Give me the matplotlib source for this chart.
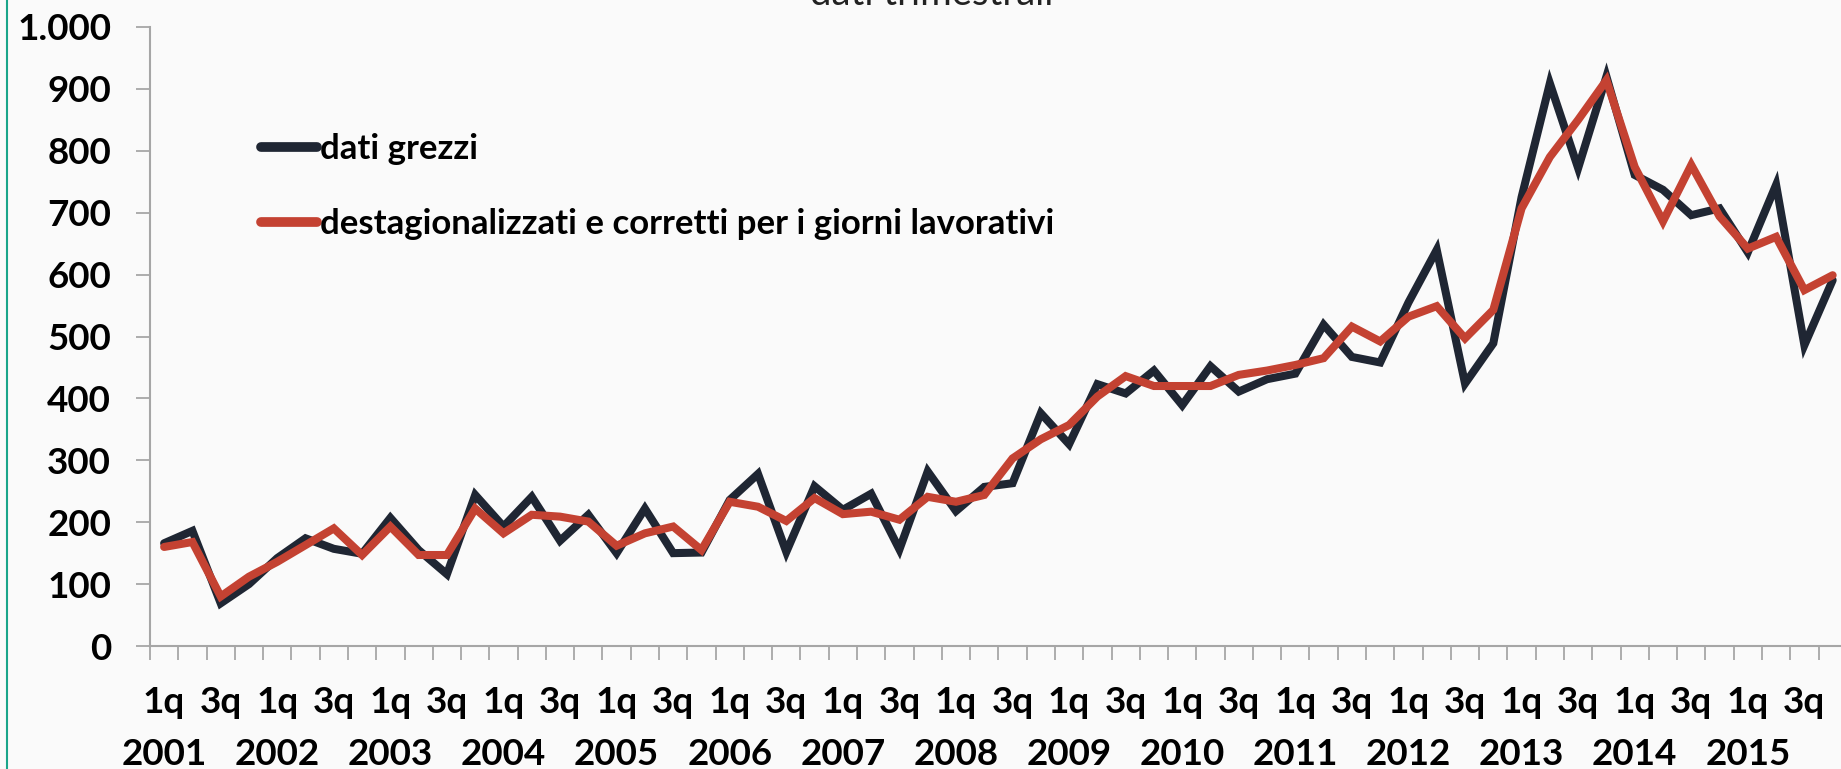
import matplotlib
matplotlib.use("Agg")
import matplotlib.pyplot as plt
from matplotlib.lines import Line2D
from matplotlib.ticker import FixedLocator, FuncFormatter

years = list(range(2001, 2016))
quarters = ["1q", "2q", "3q", "4q"]

dati_grezzi = [166, 186, 69, 100, 142, 174, 157, 149, 207, 155, 116, 244,
               193, 241, 170, 212, 150, 222, 150, 151, 236, 278, 152, 258,
               220, 246, 156, 282, 218, 257, 263, 376, 326, 423, 408, 445,
               389, 452, 411, 431, 440, 519, 467, 458, 555, 640, 424, 489,
               725, 909, 772, 920, 761, 737, 696, 707, 636, 745, 486, 591]

destagionalizzati = [160, 168, 80, 112, 136, 163, 190, 147, 193, 147, 147, 222,
                     182, 212, 209, 201, 162, 182, 193, 155, 233, 225, 202, 239,
                     213, 217, 204, 241, 233, 244, 303, 334, 357, 403, 436, 420,
                     420, 420, 438, 445, 454, 465, 516, 492, 532, 549, 497, 543,
                     707, 790, 850, 914, 774, 686, 777, 694, 642, 661, 575, 599]

legend_labels = ["dati grezzi",
                 "destagionalizzati e corretti per i giorni lavorativi"]
title_text = "dati trimestrali"
y_ticks = [0, 100, 200, 300, 400, 500, 600, 700, 800, 900, 1000]

BG = "#FAFAFA"
DARK = "#1F2633"
RED = "#C44232"
AX = "#A6A6A6"
FONT = ["Lato", "DejaVu Sans"]

W, H = 1841, 769
fig = plt.figure(figsize=(W / 100, H / 100), dpi=100, facecolor=BG)
left, right_px, top_px, bottom_px = 150, 150 + 60 * 28.28, 27, 646
ax = fig.add_axes([left / W, 1 - bottom_px / H, (right_px - left) / W, (bottom_px - top_px) / H])
ax.set_facecolor(BG)

n = len(dati_grezzi)
x = list(range(n))
ax.plot(x, dati_grezzi, color=DARK, lw=5.8, solid_joinstyle="miter", solid_capstyle="round",
        label=legend_labels[0], zorder=3)
ax.plot(x, destagionalizzati, color=RED, lw=5.8, solid_joinstyle="miter", solid_capstyle="round",
        label=legend_labels[1], zorder=4)

ax.set_xlim(-0.5, n - 0.5)
ax.set_ylim(0, 1000)

for s in ["top", "right"]:
    ax.spines[s].set_visible(False)
for s in ["left", "bottom"]:
    ax.spines[s].set_color(AX)
    ax.spines[s].set_linewidth(1.5)

ax.yaxis.set_major_locator(FixedLocator(y_ticks))
ax.yaxis.set_major_formatter(FuncFormatter(lambda v, p: f"{int(v):,}".replace(",", ".")))
ax.tick_params(axis="y", length=10, width=1.3, color=AX, pad=18, labelsize=26.5)

# quarter labels (first row)
q_pos = list(range(0, n, 2))
q_labels = [quarters[i % 4] for i in q_pos]
ax.set_xticks(q_pos)
ax.set_xticklabels(q_labels)
ax.set_xticks([i - 0.5 for i in range(n + 1)], minor=True)
ax.tick_params(axis="x", which="major", length=0, pad=29, labelsize=26.5)
ax.tick_params(axis="x", which="minor", length=10, width=1.3, color=AX)

# year labels (second row)
sec = ax.secondary_xaxis("bottom")
y_pos = list(range(0, n, 4))
sec.set_xticks(y_pos)
sec.set_xticklabels([str(y) for y in years])
sec.tick_params(axis="x", which="both", length=0, pad=66.5, labelsize=26.5)
sec.spines["bottom"].set_visible(False)

for lab in ax.get_xticklabels() + ax.get_yticklabels() + sec.get_xticklabels():
    lab.set_fontfamily(FONT)
    lab.set_fontweight("bold")
    lab.set_color("black")

leg = ax.legend(loc="upper left", bbox_to_anchor=(261 / W, 1 - 133 / H), bbox_transform=fig.transFigure,
                frameon=False, prop={"family": FONT, "weight": "bold", "size": 25},
                handlelength=1.6, handletextpad=0.1, labelspacing=1.25, borderpad=0, borderaxespad=0)
for line in leg.get_lines():
    line.set_linewidth(7)
    line.set_solid_capstyle("round")

fig.text(932 / W, 1 - 5 / H, title_text, ha="center", va="baseline", fontsize=27.5,
         family=FONT, color="#222222")

fig.add_artist(Line2D([7 / W, 7 / W], [0, 1], transform=fig.transFigure, color="#1AA58A", lw=1.5))

fig.savefig("out.png", dpi=100, facecolor=BG)
